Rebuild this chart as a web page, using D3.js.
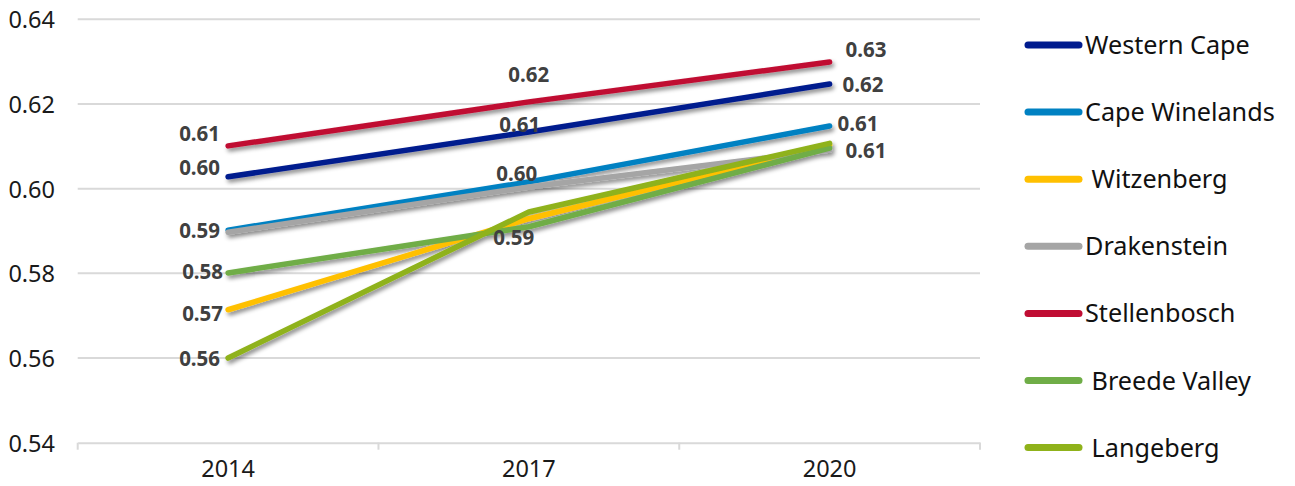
<!DOCTYPE html>
<html><head><meta charset="utf-8">
<script src="https://cdn.jsdelivr.net/npm/d3@7"></script>
<style>
html,body{margin:0;padding:0;background:#fff;}
svg{display:block;font-family:"Noto Sans",sans-serif;}
</style></head>
<body>
<svg id="chart" width="1295" height="486"></svg>
<script>
const years = ["2014", "2017", "2020"];
const seriesNames = ["Western Cape", "Cape Winelands", " Witzenberg", "Drakenstein", "Stellenbosch", " Breede Valley", " Langeberg"];
const westernCape   = [0.6028, 0.6134, 0.6247];
const capeWinelands = [0.5902, 0.6016, 0.6148];
const witzenberg    = [0.5714, 0.5929, 0.6103];
const drakenstein   = [0.5897, 0.6004, 0.6091];
const stellenbosch  = [0.6101, 0.6205, 0.6299];
const breedeValley  = [0.5801, 0.5910, 0.6096];
const langeberg     = [0.5600, 0.5945, 0.6107];
const yTicks = [0.54, 0.56, 0.58, 0.60, 0.62, 0.64];
const colors = ["#001b8e", "#0081c2", "#ffc000", "#a5a5a5", "#c00d33", "#6fad47", "#8fb21a"];

const seriesValues = [westernCape, capeWinelands, witzenberg, drakenstein, stellenbosch, breedeValley, langeberg];

// which points carry a value label, and where (layout only)
const labelPlacement = [
  {s: 4, i: 0, anchor: "end",    dx: -8, dy: -12},
  {s: 0, i: 0, anchor: "end",    dx: -8, dy: -9},
  {s: 1, i: 0, anchor: "end",    dx: -8, dy: 1},
  {s: 5, i: 0, anchor: "end",    dx: -5, dy: -1},
  {s: 2, i: 0, anchor: "end",    dx: -5, dy: 4},
  {s: 6, i: 0, anchor: "end",    dx: -8, dy: 1},
  {s: 4, i: 1, anchor: "middle", dx: 0,  dy: -27},
  {s: 0, i: 1, anchor: "middle", dx: -9, dy: -7},
  {s: 1, i: 1, anchor: "middle", dx: -12, dy: -8},
  {s: 5, i: 1, anchor: "middle", dx: -15, dy: 11},
  {s: 4, i: 2, anchor: "start",  dx: 16, dy: -12},
  {s: 0, i: 2, anchor: "start",  dx: 13, dy: 1},
  {s: 1, i: 2, anchor: "start",  dx: 8,  dy: -2},
  {s: 3, i: 2, anchor: "start",  dx: 16, dy: 1}
];

const svg = d3.select("#chart");
const defs = svg.append("defs");
const f = defs.append("filter").attr("id", "shadow").attr("x", "-10%").attr("y", "-50%").attr("width", "120%").attr("height", "200%");
f.append("feDropShadow").attr("dx", 2).attr("dy", 3).attr("stdDeviation", 2).attr("flood-color", "#000").attr("flood-opacity", 0.45);

const x = d3.scaleBand().domain(years).range([77.7, 980]);
const y = d3.scaleLinear().domain([0.54, 0.64]).range([442.7, 19.3]);
const xc = d => x(d) + x.bandwidth() / 2;

// gridlines
svg.append("g").selectAll("line").data(yTicks.slice(1)).join("line")
  .attr("x1", 77.7).attr("x2", 980)
  .attr("y1", d => y(d)).attr("y2", d => y(d))
  .attr("stroke", "#d9d9d9").attr("stroke-width", 2);

// y axis labels
const yAxis = d3.axisLeft(y).tickValues(yTicks).tickFormat(d3.format(".2f")).tickSize(0).tickPadding(0);
const yg = svg.append("g").attr("transform", "translate(55,0)").call(yAxis);
yg.select(".domain").remove();
yg.selectAll("text").attr("font-size", "23.5px").attr("font-family", "Noto Sans").attr("fill", "#1a1a1a").attr("dy", "0.357em");

// x axis
const xAxis = d3.axisBottom(x).tickSize(0).tickPadding(0);
const xg = svg.append("g").attr("transform", "translate(0,442.7)").call(xAxis);
xg.select(".domain").attr("stroke", "#d9d9d9").attr("stroke-width", 2);
xg.selectAll("text").attr("font-size", "23.5px").attr("font-family", "Noto Sans").attr("fill", "#1a1a1a").attr("dy", null).attr("y", 34);
const edges = years.map(d => x(d)).concat([x.range()[1]]);
xg.append("g").selectAll("line").data(edges).join("line")
  .attr("x1", d => d).attr("x2", d => d).attr("y1", 0).attr("y2", 7)
  .attr("stroke", "#d9d9d9").attr("stroke-width", 2);

// lines
const line = d3.line().x((d, i) => xc(years[i])).y(d => y(d));
svg.append("g").attr("filter", "url(#shadow)").selectAll("path").data(seriesValues).join("path")
  .attr("d", d => line(d))
  .attr("fill", "none")
  .attr("stroke", (d, i) => colors[i])
  .attr("stroke-width", 5.5)
  .attr("stroke-linecap", "round")
  .attr("stroke-linejoin", "round");

// value labels
svg.append("g").selectAll("text").data(labelPlacement).join("text")
  .attr("x", d => xc(years[d.i]) + d.dx)
  .attr("y", d => y(seriesValues[d.s][d.i]) + d.dy)
  .attr("dy", "0.357em")
  .attr("text-anchor", d => d.anchor)
  .attr("font-size", "20.5px").attr("font-weight", "bold").attr("fill", "#404040")
  .text(d => d3.format(".2f")(seriesValues[d.s][d.i]));

// legend
const lg = svg.append("g").selectAll("g").data(seriesNames).join("g")
  .attr("transform", (d, i) => `translate(0,${45 + i * 67.1})`);
lg.append("line").attr("x1", 1028).attr("x2", 1079).attr("y1", 0).attr("y2", 0)
  .attr("stroke", (d, i) => colors[i]).attr("stroke-width", 7).attr("stroke-linecap", "round");
lg.append("text").attr("x", 1085).attr("y", 0).attr("dy", "0.357em")
  .attr("font-size", "25.2px").attr("fill", "#111")
  .style("white-space", "pre")
  .text(d => d);
</script>
</body></html>
